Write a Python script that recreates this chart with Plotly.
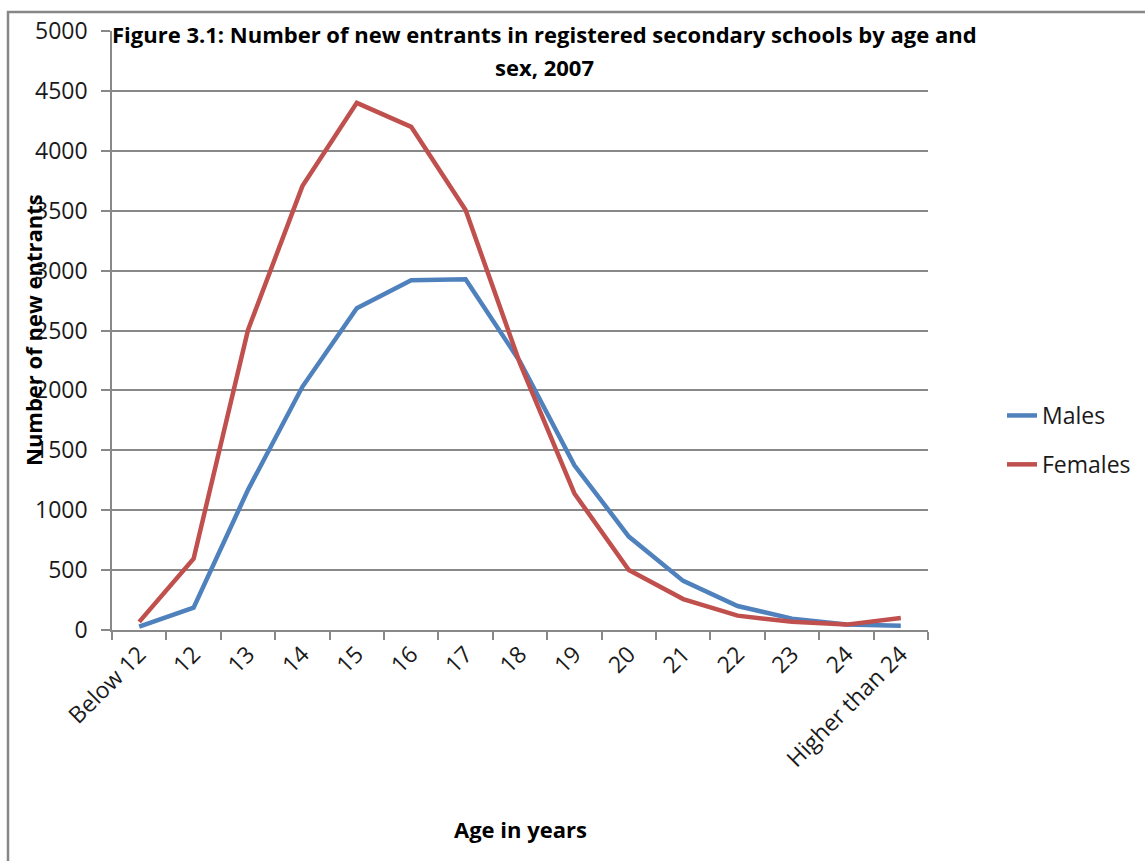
import plotly.graph_objects as go

categories = ["Below 12", "12", "13", "14", "15", "16", "17", "18", "19", "20",
              "21", "22", "23", "24", "Higher than 24"]
males = [28, 186, 1170, 2030, 2685, 2920, 2928, 2240, 1375, 780, 410, 200, 95, 45, 35]
females = [68, 595, 2505, 3705, 4400, 4200, 3505, 2225, 1140, 500, 258, 120, 68, 45, 100]
y_ticks = list(range(0, 5001, 500))

title_line1 = "Figure 3.1: Number of new entrants in registered secondary schools by age and"
title_line2 = "sex, 2007"
FONT = "Open Sans"
GRID = "#888888"

W, H = 1145, 861
L, R, T, B = 112, 217, 31, 231
pw, ph = W - L - R, H - T - B


def px_x(p):
    return (p - L) / pw


def px_y(p):
    return (H - B - p) / ph


fig = go.Figure()
fig.add_trace(go.Scatter(x=categories, y=males, mode="lines", name="Males",
                         line=dict(color="#4F81BD", width=4.5), legendgroup="m"))
fig.add_trace(go.Scatter(x=categories, y=females, mode="lines", name="Females",
                         line=dict(color="#C0504D", width=4.5), legendgroup="f"))

fig.update_layout(
    width=W, height=H,
    margin=dict(l=L, r=R, t=T, b=B, pad=0, autoexpand=False),
    paper_bgcolor="white", plot_bgcolor="white",
    font=dict(family=FONT, size=20, color="#1a1a1a"),
    showlegend=True,
    legend=dict(x=px_x(1002), y=px_y(440), xanchor="left", yanchor="middle",
                font=dict(size=23, color="#1a1a1a"), tracegroupgap=16,
                bgcolor="rgba(0,0,0,0)"),
    xaxis=dict(type="category", categoryorder="array", categoryarray=categories,
               range=[-0.5, len(categories) - 0.5],
               showline=True, linecolor=GRID, linewidth=1.5,
               showgrid=False, ticks="outside", tickson="boundaries",
               ticklen=8, tickcolor=GRID, tickwidth=1.5,
               tickangle=-45, tickfont=dict(size=23, family=FONT, color="#1a1a1a"),
               zeroline=False, fixedrange=True, automargin=False),
    yaxis=dict(range=[0, 5000], tickvals=y_ticks, ticktext=[str(v) for v in y_ticks],
               showline=True, linecolor=GRID, linewidth=1.5,
               showgrid=True, gridcolor=GRID, gridwidth=1.5,
               ticks="outside", ticklen=9, tickcolor=GRID, tickwidth=1.5,
               tickfont=dict(size=23, family=FONT, color="#1a1a1a"),
               ticklabelstandoff=9,
               zeroline=False, fixedrange=True, automargin=False),
)

# chart-area border (left and top visible, others beyond the canvas)
fig.add_shape(type="rect", xref="paper", yref="paper",
              x0=px_x(8), x1=px_x(W + 20), y0=px_y(H + 20), y1=px_y(12),
              line=dict(color="#878787", width=2.5), fillcolor="rgba(0,0,0,0)",
              layer="below")

fig.add_annotation(text="<b>" + title_line1 + "</b>",
                   xref="paper", yref="paper", x=px_x(544), y=px_y(34),
                   xanchor="center", yanchor="middle", showarrow=False,
                   font=dict(size=22, family=FONT, color="#000000"))
fig.add_annotation(text="<b>" + title_line2 + "</b>",
                   xref="paper", yref="paper", x=px_x(544), y=px_y(67),
                   xanchor="center", yanchor="middle", showarrow=False,
                   font=dict(size=22, family=FONT, color="#000000"))

fig.add_annotation(text="<b>Number of new entrants</b>", textangle=-90,
                   xref="paper", yref="paper", x=px_x(33), y=px_y(330),
                   xanchor="center", yanchor="middle", showarrow=False,
                   font=dict(size=22, family=FONT, color="#000000"))

fig.add_annotation(text="<b>Age in years</b>",
                   xref="paper", yref="paper", x=px_x(520), y=px_y(829),
                   xanchor="center", yanchor="middle", showarrow=False,
                   font=dict(size=22, family=FONT, color="#000000"))

fig.write_html("out.html")
